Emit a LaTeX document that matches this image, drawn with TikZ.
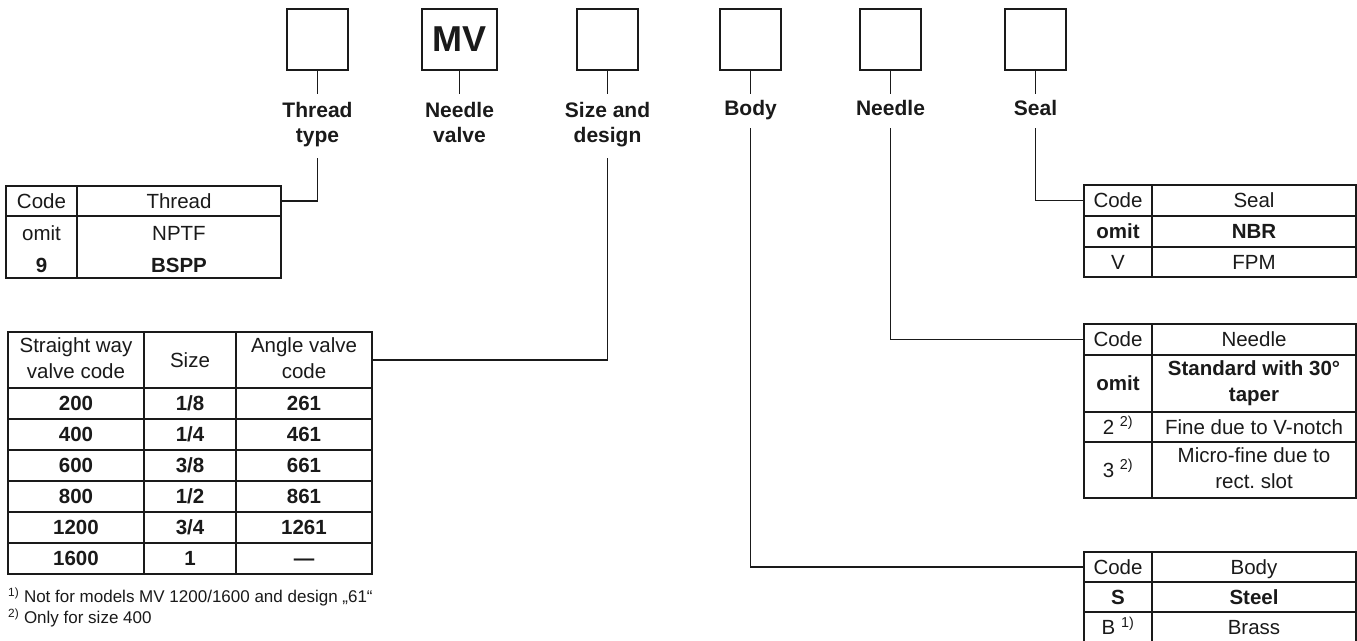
\documentclass[tikz,border=0pt]{standalone}
\usepackage{fontspec}
\setmainfont{Liberation Sans}
\usetikzlibrary{positioning}
\definecolor{ink}{HTML}{1A1A1A}
\newcommand{\tabfont}{\fontsize{20.5bp}{26bp}\selectfont}
\newcommand{\celltop}{\rule{0pt}{19.5bp}}
\newcommand{\cellbot}{\rule[-4.8bp]{0pt}{4.8bp}}
\tikzset{
  every node/.style={inner sep=0pt,text=ink},
  codebox/.style={draw=ink,line width=1.3bp,minimum width=61bp,minimum height=61bp},
  heading/.style={font=\bfseries\fontsize{21bp}{25bp}\selectfont,align=center,execute at end node=\strut},
  oneline/.style={minimum height=34bp,execute at begin node=\strut},
  cellbox/.style={draw=ink,line width=1.2bp,font=\tabfont,align=center,
    execute at begin node=\celltop,execute at end node=\cellbot},
  tabtext/.style={font=\tabfont},
  strong/.style={font=\bfseries\tabfont},
  wire/.style={draw=ink,line width=1.1bp},
  note/.style={font=\fontsize{17bp}{21bp}\selectfont,anchor=west},
}
% one table cell: [style] name, left, top, right, bottom, text
\newcommand{\gridcell}[7][]{%
  \node[cellbox,#1,minimum width={(#5-#3)*1bp},minimum height={(#6-#4)*1bp}] (#2) at ({(#3+#5)/2},{(#4+#6)/2}) {#7};}

\begin{document}
\begin{tikzpicture}[x=1bp,y=-1bp]
\useasboundingbox (0,0) rectangle (1357,641);
\fill[white] (0,0) rectangle (1357,641);
% order code positions
\node[codebox] (bthread) at (317.5,39.5) {};
\node[codebox,minimum width=75bp,font=\bfseries\fontsize{36bp}{40bp}\selectfont] (bmv) at (459.5,39.5) {MV};
\node[codebox] (bsize) at (607.5,39.5) {};
\node[codebox] (bbody) at (750.5,39.5) {};
\node[codebox] (bneedle) at (890.5,39.5) {};
\node[codebox] (bseal) at (1035.5,39.5) {};
% captions below the positions
\node[heading,minimum height=64bp,below=23bp of bthread] (lthread) {Thread\\type};
\node[heading,minimum height=64bp,below=23bp of bmv] (lmv) {Needle\\valve};
\node[heading,minimum height=64bp,below=23bp of bsize] (lsize) {Size and\\design};
\node[heading,oneline,below=23bp of bbody] (lbody) {Body};
\node[heading,oneline,below=23bp of bneedle] (lneedle) {Needle};
\node[heading,oneline,below=23bp of bseal] (lseal) {Seal};
\foreach \n in {thread,mv,size,body,needle,seal}
  \draw[wire] (b\n.south) -- (l\n.north);
% thread table
\gridcell{thrcode}{6}{186}{77}{216}{Code}
\gridcell{thrhead}{77}{186}{281}{216}{Thread}
\gridcell{thrcol}{6}{216}{77}{278}{}
\gridcell{thrval}{77}{216}{281}{278}{}
\node[tabtext] (thromit) at (41.5,233.5) {omit};
\node[strong] (thrnine) at (41.5,265) {9};
\node[tabtext] (thrnptf) at (179,233.5) {NPTF};
\node[strong] (thrbspp) at (179,265) {BSPP};
% size and design table
\gridcell{sizestr}{8}{332}{144}{388}{Straight way\\valve code}
\gridcell{sizesz}{144}{332}{236}{388}{Size}
\gridcell{sizeang}{236}{332}{372}{388}{Angle valve\\code}
\foreach \yt/\a/\s/\c in {388/200/{1/8}/261,419/400/{1/4}/461,450/600/{3/8}/661,
    481/800/{1/2}/861,512/1200/{3/4}/1261,543/1600/1/\textemdash}{
  \gridcell[strong]{s\a}{8}{\yt}{144}{\yt+31}{\a}
  \gridcell[strong]{z\a}{144}{\yt}{236}{\yt+31}{\s}
  \gridcell[strong]{g\a}{236}{\yt}{372}{\yt+31}{\c}
}
\node[note] (fnone) at (8,597) {\textsuperscript{1)} Not for models MV 1200/1600 and design „61“};
\node[note] (fntwo) at (8,618) {\textsuperscript{2)} Only for size 400};
% seal table
\gridcell{sealcode}{1084}{185}{1152}{216}{Code}
\gridcell{sealhead}{1152}{185}{1356}{216}{Seal}
\gridcell[strong]{sealomit}{1084}{216}{1152}{247}{omit}
\gridcell[strong]{sealnbr}{1152}{216}{1356}{247}{NBR}
\gridcell{sealv}{1084}{247}{1152}{277}{V}
\gridcell{sealfpm}{1152}{247}{1356}{277}{FPM}
% needle table
\gridcell{ndlcode}{1084}{324}{1152}{355}{Code}
\gridcell{ndlhead}{1152}{324}{1356}{355}{Needle}
\gridcell[strong]{ndlomit}{1084}{355}{1152}{412}{omit}
\gridcell[strong]{ndlstd}{1152}{355}{1356}{412}{Standard with 30°\\taper}
\gridcell{ndltwo}{1084}{412}{1152}{442}{2 \textsuperscript{2)}}
\gridcell{ndlfine}{1152}{412}{1356}{442}{Fine due to V-notch}
\gridcell{ndlthree}{1084}{442}{1152}{498}{3 \textsuperscript{2)}}
\gridcell{ndlmicro}{1152}{442}{1356}{498}{Micro-fine due to\\rect.\ slot}
% body table
\gridcell{bodycode}{1084}{552}{1152}{582}{Code}
\gridcell{bodyhead}{1152}{552}{1356}{582}{Body}
\gridcell[strong]{bodys}{1084}{582}{1152}{612}{S}
\gridcell[strong]{bodysteel}{1152}{582}{1356}{612}{Steel}
\gridcell{bodyb}{1084}{612}{1152}{643}{B \textsuperscript{1)}}
\gridcell{bodybrass}{1152}{612}{1356}{643}{Brass}
% leader lines to the tables
\draw[wire] (lthread.south) |- (thrhead.east);
\draw[wire] (lsize.south) |- (sizeang.east);
\draw[wire] (lbody.south) |- (bodycode.west);
\draw[wire] (lneedle.south) |- (ndlcode.west);
\draw[wire] (lseal.south) |- (sealcode.west);
\end{tikzpicture}
\end{document}
